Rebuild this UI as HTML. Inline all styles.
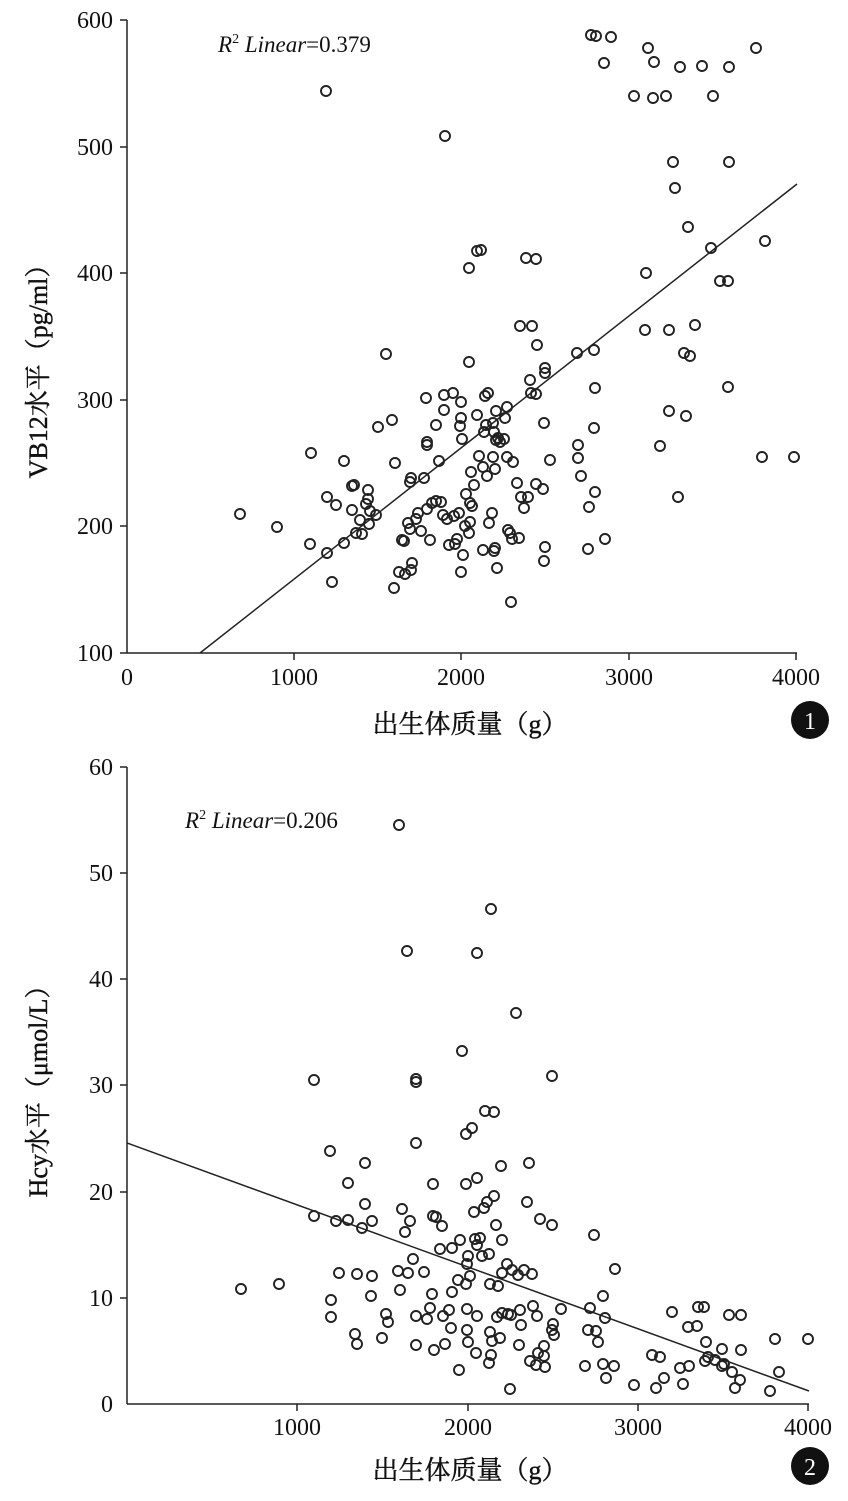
<!DOCTYPE html>
<html><head><meta charset="utf-8"><style>
html,body{margin:0;padding:0;background:#fff;}
svg{display:block;}
text{font-family:"Liberation Serif","Noto Serif CJK SC",serif;fill:#111;}
</style></head><body>
<svg width="848" height="1501" viewBox="0 0 848 1501" xmlns="http://www.w3.org/2000/svg">
<g stroke="#222" stroke-width="1.5" fill="none">
<line x1="127" y1="20" x2="127" y2="653"/><line x1="127" y1="653" x2="797" y2="653"/>
<line x1="120" y1="20" x2="127" y2="20"/><line x1="120" y1="147" x2="127" y2="147"/><line x1="120" y1="273" x2="127" y2="273"/><line x1="120" y1="400" x2="127" y2="400"/><line x1="120" y1="526" x2="127" y2="526"/><line x1="120" y1="653" x2="127" y2="653"/>
<line x1="294" y1="653" x2="294" y2="660"/><line x1="461" y1="653" x2="461" y2="660"/><line x1="629" y1="653" x2="629" y2="660"/><line x1="796" y1="653" x2="796" y2="660"/>
<line x1="200" y1="653" x2="797" y2="184"/>
<line x1="127" y1="767" x2="127" y2="1404"/><line x1="127" y1="1404" x2="809" y2="1404"/>
<line x1="120" y1="767" x2="127" y2="767"/><line x1="120" y1="873" x2="127" y2="873"/><line x1="120" y1="979" x2="127" y2="979"/><line x1="120" y1="1085" x2="127" y2="1085"/><line x1="120" y1="1192" x2="127" y2="1192"/><line x1="120" y1="1298" x2="127" y2="1298"/>
<line x1="297" y1="1404" x2="297" y2="1411"/><line x1="468" y1="1404" x2="468" y2="1411"/><line x1="638" y1="1404" x2="638" y2="1411"/><line x1="808" y1="1404" x2="808" y2="1411"/>
<line x1="127" y1="1143" x2="809" y2="1391"/>
</g>
<g font-size="24" text-anchor="end">
<text x="113" y="28">600</text><text x="113" y="155">500</text><text x="113" y="281">400</text><text x="113" y="408">300</text><text x="113" y="534">200</text><text x="113" y="661">100</text>
<text x="113" y="775">60</text><text x="113" y="881">50</text><text x="113" y="987">40</text><text x="113" y="1093">30</text><text x="113" y="1200">20</text><text x="113" y="1306">10</text><text x="113" y="1412">0</text>
</g>
<g font-size="24" text-anchor="middle">
<text x="127" y="685">0</text><text x="294" y="685">1000</text><text x="461" y="685">2000</text><text x="629" y="685">3000</text><text x="796" y="685">4000</text>
<text x="297" y="1435">1000</text><text x="468" y="1435">2000</text><text x="638" y="1435">3000</text><text x="808" y="1435">4000</text>
<text x="470" y="733" font-size="26" stroke="#111" stroke-width="0.4">出生体质量（g）</text>
<text x="470" y="1479" font-size="26" stroke="#111" stroke-width="0.4">出生体质量（g）</text>
</g>
<text x="218" y="52" font-size="23"><tspan font-style="italic">R</tspan><tspan font-size="14" dy="-9">2</tspan><tspan font-style="italic" dy="9"> Linear</tspan>=0.379</text>
<text x="185" y="828" font-size="23"><tspan font-style="italic">R</tspan><tspan font-size="14" dy="-9">2</tspan><tspan font-style="italic" dy="9"> Linear</tspan>=0.206</text>
<text transform="translate(47,365) rotate(-90)" font-size="26" text-anchor="middle" stroke="#111" stroke-width="0.4">VB12水平（pg/ml）</text>
<text transform="translate(47,1085) rotate(-90)" font-size="26" text-anchor="middle" stroke="#111" stroke-width="0.4">Hcy水平（μmol/L）</text>
<circle cx="810" cy="720" r="19" fill="#111"/><text x="810" y="729" font-size="24" text-anchor="middle" style="fill:#fff" font-family="Liberation Sans">1</text>
<circle cx="810" cy="1466" r="19" fill="#111"/><text x="810" y="1475" font-size="24" text-anchor="middle" style="fill:#fff" font-family="Liberation Sans">2</text>
<g id="p1" stroke="#222" stroke-width="1.9" fill="none"></g>
<g id="p2" stroke="#222" stroke-width="1.9" fill="none"></g>
</svg>
<script>
var a=[[240,514],[277,527],[311,453],[310,544],[327,497],[327,553],[332,582],[336,505],[344,461],[344,543],[352,486],[354,485],[352,510],[356,533],[360,520],[362,534],[366,504],[368,490],[368,499],[369,524],[370,511],[376,515],[378,427],[386,354],[392,420],[395,463],[394,588],[399,572],[402,540],[404,541],[405,574],[408,523],[410,529],[410,482],[411,478],[411,570],[412,563],[416,519],[418,513],[421,531],[424,478],[426,398],[427,509],[427,445],[427,442],[430,540],[432,503],[436,501],[436,425],[439,461],[441,502],[443,515],[444,410],[444,395],[445,136],[447,519],[449,545],[453,393],[454,516],[455,544],[457,539],[459,513],[460,426],[461,402],[461,418],[461,572],[462,439],[463,555],[465,526],[466,494],[469,268],[469,362],[469,533],[470,522],[470,503],[471,472],[472,506],[474,485],[477,415],[477,251],[479,456],[481,250],[483,467],[483,550],[484,432],[485,396],[486,425],[487,476],[488,393],[489,523],[492,513],[493,423],[493,457],[494,432],[494,551],[495,469],[495,548],[496,411],[496,440],[497,568],[498,438],[500,442],[504,439],[505,418],[507,407],[507,457],[508,530],[510,533],[511,602],[512,539],[513,462],[517,483],[519,538],[520,326],[521,497],[524,508],[526,258],[528,497],[530,380],[531,393],[532,326],[536,259],[536,394],[536,484],[537,345],[543,489],[544,561],[544,423],[545,368],[545,373],[545,547],[550,460],[577,353],[578,458],[578,445],[581,476],[588,549],[589,507],[591,35],[595,388],[594,350],[594,428],[595,492],[596,36],[604,63],[605,539],[611,37],[634,96],[645,330],[646,273],[648,48],[653,98],[654,62],[660,446],[666,96],[669,330],[669,411],[673,162],[675,188],[678,497],[680,67],[684,353],[686,416],[688,227],[690,356],[695,325],[702,66],[711,248],[713,96],[720,281],[728,281],[729,162],[729,67],[728,387],[756,48],[762,457],[765,241],[794,457],[326,91]];
var b=[[241,1289],[279,1284],[314,1080],[314,1216],[330,1151],[331,1300],[331,1317],[336,1221],[339,1273],[348,1183],[348,1220],[355,1334],[357,1274],[357,1344],[362,1228],[365,1163],[365,1204],[371,1296],[372,1221],[372,1276],[382,1338],[386,1314],[388,1322],[398,1271],[400,1290],[402,1209],[405,1232],[407,951],[408,1273],[410,1221],[413,1259],[416,1079],[416,1082],[416,1143],[416,1345],[416,1316],[424,1272],[427,1319],[430,1308],[432,1294],[433,1216],[433,1184],[434,1350],[436,1217],[440,1249],[442,1226],[443,1316],[445,1344],[449,1310],[451,1328],[452,1248],[452,1292],[458,1280],[459,1370],[460,1240],[462,1051],[466,1284],[466,1134],[466,1184],[467,1264],[467,1309],[467,1330],[468,1342],[468,1256],[470,1276],[472,1128],[474,1212],[475,1239],[476,1353],[477,1178],[477,1245],[477,1316],[477,953],[480,1238],[482,1256],[484,1208],[485,1111],[487,1202],[489,1254],[489,1363],[490,1284],[490,1332],[491,909],[491,1355],[492,1341],[494,1112],[494,1196],[496,1225],[497,1317],[498,1286],[500,1338],[501,1166],[502,1240],[502,1273],[502,1313],[507,1264],[508,1314],[510,1389],[511,1315],[512,1270],[516,1013],[518,1275],[519,1345],[520,1310],[521,1325],[524,1270],[527,1202],[529,1163],[530,1361],[532,1274],[533,1306],[536,1365],[537,1316],[538,1353],[540,1219],[544,1356],[544,1346],[545,1367],[552,1330],[552,1076],[552,1225],[553,1324],[554,1335],[561,1309],[585,1366],[588,1330],[590,1308],[594,1235],[596,1331],[598,1342],[603,1296],[603,1364],[605,1318],[606,1378],[614,1366],[615,1269],[634,1385],[652,1355],[656,1388],[660,1357],[664,1378],[672,1312],[680,1368],[683,1384],[688,1327],[689,1366],[697,1326],[698,1307],[704,1307],[705,1361],[706,1342],[708,1357],[715,1360],[722,1349],[724,1364],[729,1315],[732,1372],[740,1380],[741,1315],[741,1350],[770,1391],[775,1339],[779,1372],[808,1339],[722,1366],[735,1388],[399,825]];
function d(id,arr){var g=document.getElementById(id),s='';arr.forEach(function(p){s+='<circle cx="'+p[0]+'" cy="'+p[1]+'" r="5"/>';});g.innerHTML=s;}
d('p1',a);d('p2',b);
</script>
</body></html>
